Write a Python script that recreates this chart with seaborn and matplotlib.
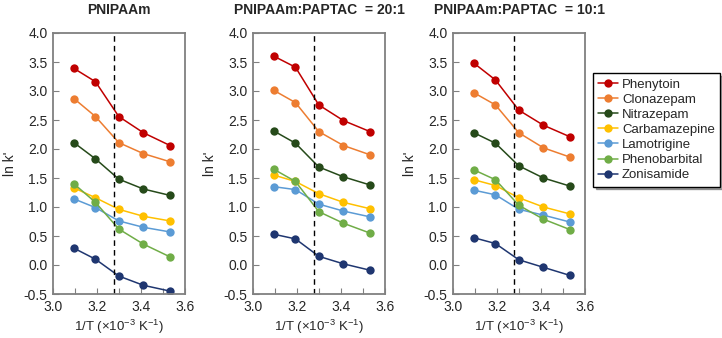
import numpy as np
import pandas as pd
import matplotlib
matplotlib.use("Agg")
import matplotlib.pyplot as plt
import seaborn as sns

# 1/T values (x10^-3 K^-1) for 50, 40, 30, 20, 10 degC
inv_t = [3.095, 3.193, 3.299, 3.411, 3.532]
lcst_line = 3.277

drugs = ["Phenytoin", "Clonazepam", "Nitrazepam", "Carbamazepine",
         "Lamotrigine", "Phenobarbital", "Zonisamide"]
colors = ["#C00000", "#ED7D31", "#264A1A", "#FFC000",
          "#5B9BD5", "#70AD47", "#1F3670"]

titles = ["PNIPAAm", "PNIPAAm:PAPTAC  = 20:1", "PNIPAAm:PAPTAC  = 10:1"]

# ln k' read per panel, same order as drugs
pnipaam = [
    [3.39, 3.16, 2.56, 2.28, 2.06],
    [2.87, 2.56, 2.11, 1.92, 1.78],
    [2.11, 1.83, 1.48, 1.31, 1.20],
    [1.33, 1.16, 0.96, 0.84, 0.76],
    [1.14, 0.99, 0.76, 0.65, 0.57],
    [1.40, 1.08, 0.62, 0.36, 0.14],
    [0.29, 0.10, -0.19, -0.35, -0.45],
]
ratio_20 = [
    [3.60, 3.41, 2.76, 2.49, 2.30],
    [3.01, 2.80, 2.30, 2.06, 1.90],
    [2.31, 2.10, 1.69, 1.52, 1.38],
    [1.55, 1.44, 1.23, 1.08, 0.97],
    [1.35, 1.30, 1.05, 0.93, 0.83],
    [1.65, 1.44, 0.92, 0.72, 0.55],
    [0.53, 0.45, 0.15, 0.02, -0.09],
]
ratio_10 = [
    [3.48, 3.19, 2.67, 2.41, 2.21],
    [2.97, 2.76, 2.28, 2.02, 1.86],
    [2.28, 2.10, 1.71, 1.50, 1.36],
    [1.47, 1.37, 1.16, 1.00, 0.88],
    [1.29, 1.21, 0.96, 0.86, 0.74],
    [1.64, 1.47, 1.03, 0.79, 0.61],
    [0.47, 0.37, 0.09, -0.04, -0.18],
]
panels = [pnipaam, ratio_20, ratio_10]

sns.set_style("white")
plt.rcParams["font.family"] = ["Liberation Sans", "DejaVu Sans"]
plt.rcParams["axes.unicode_minus"] = False

fig = plt.figure(figsize=(7.22, 3.38), dpi=100)
lefts = [53, 253, 453]
palette = dict(zip(drugs, colors))

for i, (values, title) in enumerate(zip(panels, titles)):
    ax = fig.add_axes([lefts[i] / 722, 44 / 338, 132 / 722, 261 / 338])
    rows = []
    for d, ys in zip(drugs, values):
        for x, y in zip(inv_t, ys):
            rows.append({"invT": x, "lnk": y, "drug": d})
    df = pd.DataFrame(rows)
    sns.lineplot(data=df, x="invT", y="lnk", hue="drug", palette=palette,
                 marker="o", markersize=6, markeredgewidth=0, linewidth=1.1,
                 legend=False, ax=ax)
    ax.axvline(lcst_line, color="black", linestyle=(0, (4, 3)), linewidth=1)
    ax.set_xlim(3.0, 3.6)
    ax.set_ylim(-0.5, 4.0)
    ax.set_xticks(np.arange(3.0, 3.61, 0.2))
    ax.set_xticks(np.arange(3.1, 3.6, 0.2), minor=True)
    ax.set_yticks(np.arange(-0.5, 4.01, 0.5))
    ax.xaxis.set_major_formatter(matplotlib.ticker.FormatStrFormatter("%.1f"))
    ax.yaxis.set_major_formatter(matplotlib.ticker.FormatStrFormatter("%.1f"))
    ax.tick_params(axis="both", which="both", direction="in", length=4,
                   width=0.8, color="#808080", labelsize=10, pad=4,
                   bottom=True, left=True)
    for s in ax.spines.values():
        s.set_color("#808080")
        s.set_linewidth(1.3)
    ax.set_xlabel("1/T (×10$^{\\mathregular{-3}}$ K$^{\\mathregular{-1}}$)",
                  fontsize=9.5, labelpad=3)
    ax.set_ylabel("ln k'", fontsize=10, labelpad=5)
    ax.set_title(title, fontsize=10, fontweight="bold", pad=14)

handles = [matplotlib.lines.Line2D([], [], color=c, marker="o", markersize=6,
                                   markeredgewidth=0, linewidth=1.1)
           for c in colors]
leg = fig.legend(handles, drugs, loc="upper left",
                 bbox_to_anchor=(593 / 722, 1 - 73 / 338), fontsize=9.5,
                 frameon=True, fancybox=False, shadow=True, handlelength=1.5,
                 handletextpad=0.3, labelspacing=0.22, borderpad=0.4,
                 borderaxespad=0)
leg.get_frame().set_edgecolor("black")
leg.get_frame().set_linewidth(1)

fig.savefig("out.png", dpi=100)
